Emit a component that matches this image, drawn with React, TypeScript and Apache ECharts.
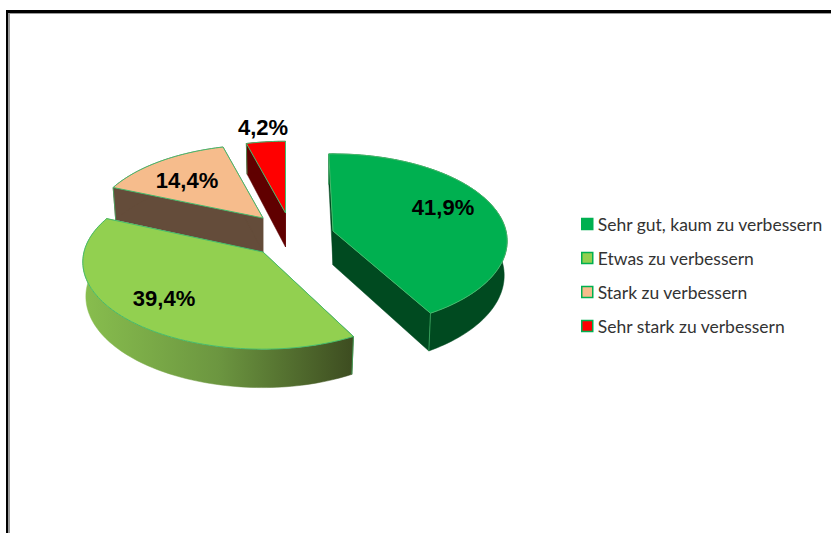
import React, { useEffect, useRef } from "react";
import * as echarts from "echarts";

// Survey result shares, in percent, in clockwise order from twelve o'clock.
const categories = [
  "Sehr gut, kaum zu verbessern",
  "Etwas zu verbessern",
  "Stark zu verbessern",
  "Sehr stark zu verbessern",
];
const shares = [41.9, 39.4, 14.4, 4.2];

// Face colours of each slice.
const topColors = ["#00B050", "#92D050", "#F6BC8C", "#FF0000"];
const wallColors: any[] = [
  "#004A20",
  {
    type: "linear",
    x: 0,
    y: 0,
    x2: 1,
    y2: 0,
    colorStops: [
      { offset: 0, color: "#88BE4E" },
      { offset: 0.5, color: "#6C9640" },
      { offset: 1, color: "#3D4C20" },
    ],
  },
  "#644C3A",
  "#600000",
];

// Where each exploded slice has its tip, how far its rim reaches, how the view
// turns it (degrees), and where its label sits.
const sliceTips = [
  [333, 231],
  [263, 252],
  [263, 218],
  [285.5, 213],
];
const sliceReach = [1, 1, 0.95, 0.93];
const sliceTurn = [-1.5, 1, 0, 0];
const labelOffsets = [
  [110, -24],
  [-99, 46],
  [-76, -38],
  [-22.5, -86],
];
const drawOrder = [4, 3, 2, 1];

// Projection of the tilted disc.
const RADIUS_X_LEFT = 179;
const RADIUS_X_RIGHT = 173;
const RADIUS_Y = 86;
const PERSPECTIVE = 0.115;
const DEPTH = 34;
const LOWER_SHRINK = 0.983;
const EDGE = "#45BB6C";

const total = shares.reduce((sum, v) => sum + v, 0);

type Pt = [number, number];

// Projects an angle (degrees clockwise from twelve o'clock) on the rim of a slice.
function rim(index: number, deg: number, lower: boolean): Pt {
  const tip = sliceTips[index];
  const reach = sliceReach[index];
  const a = ((deg + sliceTurn[index]) * Math.PI) / 180;
  const u = Math.sin(a);
  const v = -Math.cos(a);
  const s = 1 / (1 - PERSPECTIVE * v);
  const k = lower ? LOWER_SHRINK : 1;
  const rx = u < 0 ? RADIUS_X_LEFT : RADIUS_X_RIGHT;
  return [
    tip[0] + rx * reach * u * s * k,
    tip[1] + RADIUS_Y * reach * v * s + (lower ? DEPTH * s : 0),
  ];
}

function arcPoints(index: number, from: number, to: number, lower: boolean): Pt[] {
  const pts: Pt[] = [];
  const steps = Math.max(2, Math.ceil((to - from) / 1.5));
  for (let i = 0; i <= steps; i++) {
    pts.push(rim(index, from + ((to - from) * i) / steps, lower));
  }
  return pts;
}

function sliceRenderer(index: number) {
  return (_params: any, api: any) => {
    const value = api.value(0);
    const before = shares.slice(0, index).reduce((sum, v) => sum + v, 0);
    const from = (before / total) * 360;
    const to = from + (value / total) * 360;
    const tip = sliceTips[index];
    const lowerTip: Pt = [tip[0], tip[1] + DEPTH];
    const wall = wallColors[index];
    const wallStyle = { fill: wall, stroke: wall, lineWidth: 0.5 };
    const face = (deg: number) => ({
      type: "polygon",
      shape: { points: [tip, rim(index, deg, false), rim(index, deg, true), lowerTip] },
      style: wallStyle,
    });
    const cornerEdge = (deg: number) => {
      const upper = rim(index, deg, false);
      const lower = rim(index, deg, true);
      return {
        type: "line",
        shape: { x1: upper[0], y1: upper[1], x2: lower[0], y2: lower[1] },
        style: { stroke: EDGE, lineWidth: 0.7 },
      };
    };
    const upperArc = arcPoints(index, from, to, false);
    const lowerArc = arcPoints(index, from, to, true);
    const offset = labelOffsets[index];
    return {
      type: "group",
      children: [
        face(from),
        face(to),
        {
          type: "polygon",
          shape: { points: [...upperArc, ...lowerArc.slice().reverse()] },
          style: wallStyle,
        },
        cornerEdge(from),
        cornerEdge(to),
        {
          type: "polygon",
          shape: { points: [tip, ...upperArc] },
          style: { fill: topColors[index], stroke: EDGE, lineWidth: 1 },
        },
        {
          type: "text",
          x: tip[0] + offset[0],
          y: tip[1] + offset[1],
          style: {
            text: value.toFixed(1).replace(".", ",") + "%",
            fill: "#000000",
            font: 'bold 22px "Liberation Sans", Arial, sans-serif',
            textAlign: "center",
            textVerticalAlign: "middle",
          },
        },
      ],
    };
  };
}

export default function App() {
  const ref = useRef<HTMLDivElement>(null);

  useEffect(() => {
    document.body.style.margin = "0";
    const chart = echarts.init(ref.current!, null, { renderer: "svg" });
    chart.setOption({
      animation: false,
      backgroundColor: "#FFFFFF",
      legend: {
        orient: "vertical",
        left: 581,
        top: 214,
        padding: 0,
        itemWidth: 11,
        itemHeight: 11,
        itemGap: 14,
        selectedMode: false,
        textStyle: {
          fontFamily: "Lato, sans-serif",
          fontSize: 17.5,
          lineHeight: 20,
          color: "#333333",
        },
        data: categories.map((name, i) => ({
          name,
          icon: "rect",
          itemStyle: { color: topColors[i], borderColor: "#00B050", borderWidth: 1.5 },
        })),
      },
      graphic: [
        // Heavy black frame with a grey inner shadow along the top and left edges.
        { type: "rect", shape: { x: 8, y: 13, width: 823, height: 1 }, style: { fill: "#9A9A9A" } },
        { type: "rect", shape: { x: 8, y: 13, width: 2, height: 520 }, style: { fill: "#9A9A9A" } },
        { type: "rect", shape: { x: 6, y: 10, width: 825, height: 3 }, style: { fill: "#000000" } },
        { type: "rect", shape: { x: 6, y: 10, width: 2, height: 523 }, style: { fill: "#000000" } },
      ],
      series: categories.map((name, i) => ({
        type: "custom",
        name,
        coordinateSystem: "none",
        z: drawOrder[i],
        silent: true,
        itemStyle: { color: topColors[i] },
        data: [[shares[i]]],
        renderItem: sliceRenderer(i),
      })),
    });
    return () => chart.dispose();
  }, []);

  return <div ref={ref} style={{ width: 831, height: 533 }} />;
}
